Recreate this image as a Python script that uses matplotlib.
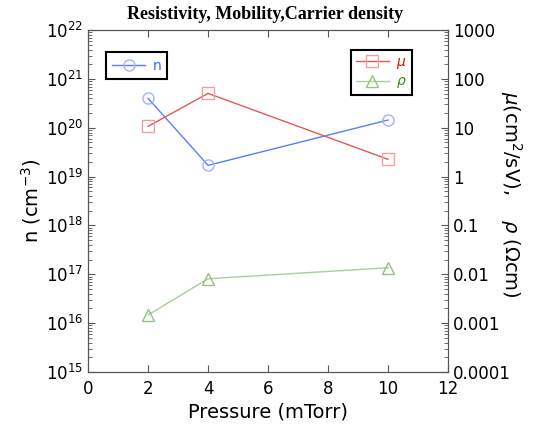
import math
import matplotlib
matplotlib.use("Agg")
import matplotlib.pyplot as plt
from matplotlib.ticker import LogLocator, FixedLocator, FuncFormatter, NullFormatter

pressure = [2, 4, 10]
n_density = [4.0e20, 1.7e19, 1.44e20]
mobility = [10.7, 50.6, 2.26]
resistivity = [0.00147, 0.0081, 0.0136]

right_ticks = [1000, 100, 10, 1, 0.1, 0.01, 0.001, 0.0001]
right_labels = ["1000", "100", "10", "1", "0.1", "0.01", "0.001", "0.0001"]

plt.rcParams['font.family'] = ['DejaVu Sans']

fig = plt.figure(figsize=(5.34, 4.30), dpi=100)
ax = fig.add_axes([0.165, 0.135, 0.674, 0.795])
ax2 = ax.twinx()

blue_line = '#5a7cff'
blue_mk = '#9fb3ff'
red_line = '#e05858'
red_mk = '#f0a0a0'
green_line = '#a9cf98'
green_mk = '#93c27f'

ln_n, = ax.plot(pressure, n_density, '-', color=blue_line, lw=1.0,
                marker='o', ms=8, mfc='none', mec=blue_mk, mew=1.0, label='n')
ln_mu, = ax2.plot(pressure, mobility, '-', color=red_line, lw=1.0,
                  marker='s', ms=8, mfc='none', mec=red_mk, mew=1.0, label='$\\mu$')
ln_rho, = ax2.plot(pressure, resistivity, '-', color=green_line, lw=1.0,
                   marker='^', ms=9, mfc='none', mec=green_mk, mew=1.0, label='$\\rho$')

ax.set_xlim(0, 12)
ax.set_yscale('log')
ax.set_ylim(1e15, 1e22)
ax2.set_yscale('log')
ax2.set_ylim(1e-4, 1e3)

ax.set_xticks([0, 2, 4, 6, 8, 10, 12])
ax.yaxis.set_major_locator(LogLocator(base=10, numticks=20))
ax.yaxis.set_minor_locator(LogLocator(base=10, subs=range(2, 10), numticks=20))
ax.yaxis.set_minor_formatter(NullFormatter())
ax.yaxis.set_major_formatter(FuncFormatter(lambda v, p: '$10^{%d}$' % round(math.log10(v))))

ax2.yaxis.set_major_locator(FixedLocator(right_ticks))
ax2.yaxis.set_major_formatter(FuncFormatter(
    lambda v, p: right_labels[right_ticks.index(min(right_ticks, key=lambda t: abs(math.log10(t) - math.log10(v))))]))
ax2.yaxis.set_minor_locator(LogLocator(base=10, subs=range(2, 10), numticks=20))
ax2.yaxis.set_minor_formatter(NullFormatter())

ax.tick_params(axis='x', which='major', direction='in', top=True, length=5, labelsize=12, pad=6)
ax.tick_params(axis='y', which='major', direction='in', length=5, labelsize=12, right=False)
ax.tick_params(axis='y', which='minor', direction='in', length=3, right=False)
ax2.tick_params(axis='y', which='major', direction='in', length=5, labelsize=12)
ax2.tick_params(axis='y', which='minor', direction='in', length=3)

for a in (ax, ax2):
    for s in a.spines.values():
        s.set_color('#555555')
        s.set_linewidth(0.8)
    a.tick_params(colors='#555555', labelcolor='black', which='both')

ax.set_xlabel('Pressure (mTorr)', fontsize=14)
ax.xaxis.set_label_coords(0.5, -0.09)
ax.set_ylabel('n (cm$^{-3}$)', fontsize=14, labelpad=2)
ax2.set_ylabel('$\\mu$(cm$^{2}$/sV),    $\\rho$ ($\\Omega$cm)', fontsize=14, rotation=270)
ax2.yaxis.set_label_coords(1.21, 0.52)

fig.suptitle('Resistivity, Mobility,Carrier density', x=0.497, y=0.985,
             fontsize=13, fontweight='bold', family='Liberation Serif')

leg1 = ax.legend(handles=[ln_n], loc='upper left', bbox_to_anchor=(0.03, 0.955),
                 fancybox=False, edgecolor='black', framealpha=1, fontsize=10,
                 handlelength=2.4, borderpad=0.45, handletextpad=0.5)
leg1.get_frame().set_linewidth(1.5)
for t in leg1.get_texts():
    t.set_color('#4060ff')
leg2 = ax2.legend(handles=[ln_mu, ln_rho], loc='upper right', bbox_to_anchor=(0.918, 0.962),
                  fancybox=False, edgecolor='black', framealpha=1, fontsize=10,
                  handlelength=2.4, borderpad=0.35, labelspacing=0.25, handletextpad=0.5)
leg2.get_frame().set_linewidth(1.5)
leg2.get_texts()[0].set_color('#cc1010')
leg2.get_texts()[1].set_color('#3a8a10')

fig.savefig('out.png', dpi=100)
